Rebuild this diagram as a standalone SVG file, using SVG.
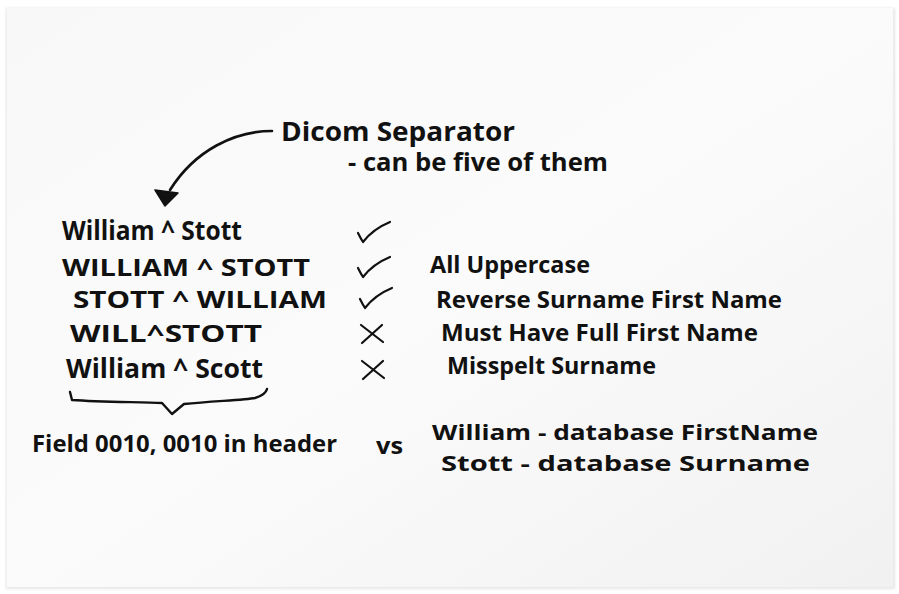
<svg xmlns="http://www.w3.org/2000/svg" width="899" height="594" viewBox="0 0 899 594">
  <defs>
    <style>
      .hand { font-family: "Open Sans", "Liberation Sans", sans-serif; font-weight: 700; fill: #111; }
      .ink { fill: none; stroke: #111; stroke-linecap: round; stroke-linejoin: round; }
      .mark { fill: none; stroke: #111; stroke-width: 2.2; stroke-linecap: round; stroke-linejoin: round; }
    </style>
    <linearGradient id="board" x1="0" y1="0" x2="1" y2="1">
      <stop offset="0" stop-color="#f8f8f8"/>
      <stop offset="0.5" stop-color="#fbfbfb"/>
      <stop offset="1" stop-color="#f1f1f1"/>
    </linearGradient>
    <filter id="soft" x="-5%" y="-5%" width="110%" height="110%">
      <feGaussianBlur stdDeviation="1.5"/>
    </filter>
  </defs>

  <!-- page and whiteboard -->
  <rect width="899" height="594" fill="#ffffff"/>
  <rect x="6" y="8" width="889" height="581" fill="#e6e6e6" filter="url(#soft)"/>
  <rect x="7" y="8" width="886" height="579" fill="url(#board)"/>

  <!-- connectors -->
  <g id="connectors">
    <path class="ink" stroke-width="2.6" d="M272,131 C235,131 195,150 170,190"/>
    <path d="M155,190 L178,193 L165,206 Z" fill="#111" stroke="#111" stroke-width="1.5" stroke-linejoin="round"/>
    <path class="ink" stroke-width="2.4" d="M70,392 L72,400 C100,402 140,402 162,403 L172,414 L184,404 C215,401 245,400 255,398 C262,396 266,393 267,389"/>
  </g>

  <g id="separator-note">
    <text class="hand" x="281" y="141" font-size="27" textLength="234" lengthAdjust="spacingAndGlyphs">Dicom Separator</text>
    <text class="hand" x="348" y="171" font-size="25" textLength="260" lengthAdjust="spacingAndGlyphs">- can be five of them</text>
  </g>

  <g id="name-1">
    <text class="hand" x="62" y="240" font-size="26" textLength="180" lengthAdjust="spacingAndGlyphs">William ^ Stott</text>
    <path class="mark" d="M358,233 Q361,239 363,242 Q373,229 390,222"/>
  </g>
  <g id="name-2">
    <text class="hand" x="62" y="276" font-size="23" textLength="248" lengthAdjust="spacingAndGlyphs">WILLIAM ^ STOTT</text>
    <path class="mark" d="M358,268 Q361,274 363,277 Q373,264 390,257"/>
    <text class="hand" x="430" y="273" font-size="23" textLength="160" lengthAdjust="spacingAndGlyphs">All Uppercase</text>
  </g>
  <g id="name-3">
    <text class="hand" x="73" y="308" font-size="23" textLength="254" lengthAdjust="spacingAndGlyphs">STOTT ^ WILLIAM</text>
    <path class="mark" d="M360,299 Q363,305 365,308 Q375,295 392,288"/>
    <text class="hand" x="436" y="308" font-size="24" textLength="346" lengthAdjust="spacingAndGlyphs">Reverse Surname First Name</text>
  </g>
  <g id="name-4">
    <text class="hand" x="70" y="342" font-size="23" textLength="192" lengthAdjust="spacingAndGlyphs">WILL^STOTT</text>
    <path class="mark" d="M361,325 L383,342 M382,325 L362,343"/>
    <text class="hand" x="441" y="341" font-size="24" textLength="317" lengthAdjust="spacingAndGlyphs">Must Have Full First Name</text>
  </g>
  <g id="name-5">
    <text class="hand" x="66" y="378" font-size="26" textLength="197" lengthAdjust="spacingAndGlyphs">William ^ Scott</text>
    <path class="mark" d="M362,361 L384,378 M383,361 L363,379"/>
    <text class="hand" x="447" y="374" font-size="24" textLength="209" lengthAdjust="spacingAndGlyphs">Misspelt Surname</text>
  </g>

  <g id="header-field">
    <text class="hand" x="32" y="452" font-size="24" textLength="305" lengthAdjust="spacingAndGlyphs">Field 0010, 0010 in header</text>
  </g>
  <g id="versus">
    <text class="hand" x="376" y="454" font-size="24" textLength="27" lengthAdjust="spacingAndGlyphs">vs</text>
  </g>
  <g id="database-fields">
    <text class="hand" x="432" y="440" font-size="22" textLength="386" lengthAdjust="spacingAndGlyphs">William - database FirstName</text>
    <text class="hand" x="441" y="471" font-size="22" textLength="369" lengthAdjust="spacingAndGlyphs">Stott  - database Surname</text>
  </g>
</svg>
